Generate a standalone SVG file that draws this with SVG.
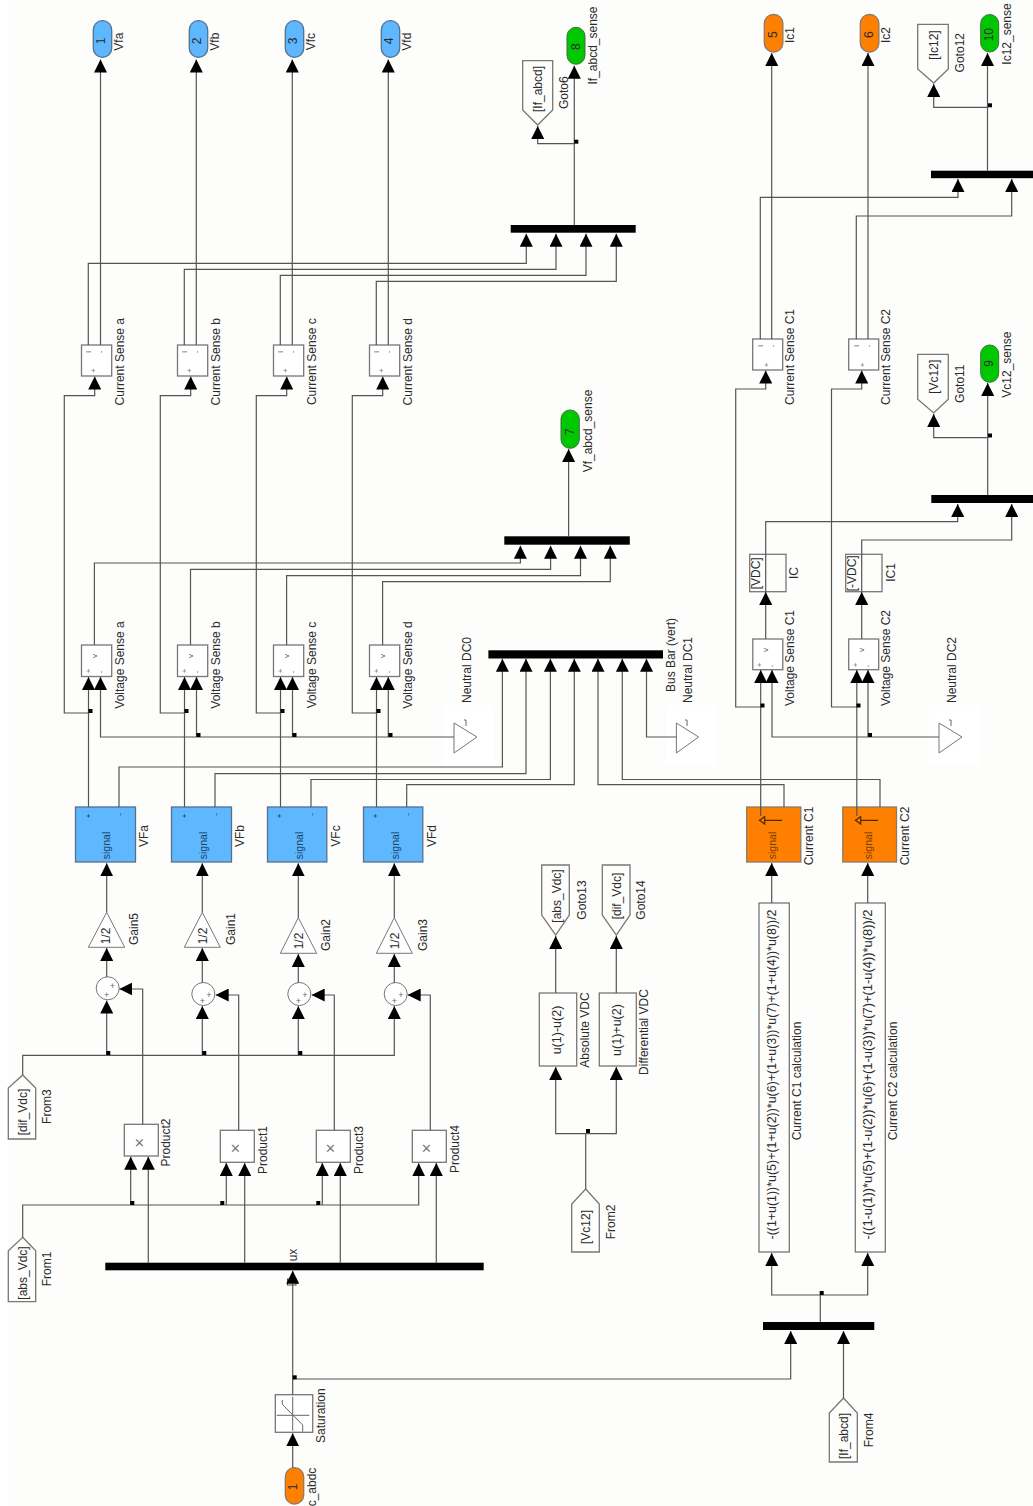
<svg xmlns="http://www.w3.org/2000/svg" width="1033" height="1506" viewBox="0 0 1033 1506">
<style>
text{font-family:"Liberation Sans",Arial,sans-serif;font-size:12px;fill:#2b2b2b;text-anchor:middle}
.c{fill:none;stroke:#555;stroke-width:1.2}
.a{marker-end:url(#ah)}
.k{fill:#fff;stroke:#777;stroke-width:1.3}
.w{fill:#fdfdfb;stroke:#777;stroke-width:1.3}
.blue{fill:#5fb8ff;stroke:#56708a;stroke-width:1.3}
.or{fill:#ff8000;stroke:#8c7a66;stroke-width:1.3}
.gr{fill:#00c800;stroke:#3c6e3c;stroke-width:1}
.bar{fill:#000}
.dot{fill:#000}
.s{font-size:8px;fill:#666}
.sg{font-size:10.5px;fill:#1c4468}
.so{font-size:10.5px;fill:#7a3c00}
.n{fill:none;stroke:#666;stroke-width:1}
.v{fill:#fff;stroke:#777;stroke-width:1}
.x{font-size:17px;fill:#777}
</style>
<defs>
<marker id="ah" viewBox="0 0 13 13" refX="13" refY="6.5" markerWidth="13" markerHeight="13" markerUnits="userSpaceOnUse" orient="auto"><path d="M0 0L13 6.5L0 13Z" fill="#000"/></marker>
</defs>
<rect width="1033" height="1506" fill="#fdfdfb"/>
<rect width="8" height="1506" fill="#fff"/>
<rect x="444" y="705" width="50" height="60" fill="#fff"/>
<rect x="666" y="705" width="50" height="60" fill="#fff"/>
<rect x="929" y="705" width="50" height="60" fill="#fff"/>

<g id="out-vfa"><rect class="blue" x="93.3" y="20.7" width="18.4" height="36.6" rx="9"/><text transform="translate(105 41) rotate(-90)">1</text><text transform="translate(123.3 41.7) rotate(-90)">Vfa</text></g>
<g id="out-vfb"><rect class="blue" x="189.3" y="20.7" width="18.4" height="36.6" rx="9"/><text transform="translate(201 41) rotate(-90)">2</text><text transform="translate(219.3 41.7) rotate(-90)">Vfb</text></g>
<g id="out-vfc"><rect class="blue" x="285.3" y="20.7" width="18.4" height="36.6" rx="9"/><text transform="translate(297 41) rotate(-90)">3</text><text transform="translate(315.3 41.7) rotate(-90)">Vfc</text></g>
<g id="out-vfd"><rect class="blue" x="381.3" y="20.7" width="18.4" height="36.6" rx="9"/><text transform="translate(393 41) rotate(-90)">4</text><text transform="translate(411.3 41.7) rotate(-90)">Vfd</text></g>
<g id="out-ic1"><rect class="or" x="764.3" y="14.5" width="18.6" height="37.5" rx="9"/><text transform="translate(776.5 34.7) rotate(-90)">5</text><text transform="translate(794 35) rotate(-90)">Ic1</text></g>
<g id="out-ic2"><rect class="or" x="860.3" y="14.5" width="18.6" height="37.5" rx="9"/><text transform="translate(872.5 34.7) rotate(-90)">6</text><text transform="translate(890 35) rotate(-90)">Ic2</text></g>
<g id="out-if"><rect class="gr" x="567" y="27.3" width="18" height="37" rx="9"/><text transform="translate(580 46.7) rotate(-90)">8</text><text transform="translate(596.7 45.5) rotate(-90)">If_abcd_sense</text></g>
<g id="out-vf"><rect class="gr" x="561" y="410" width="18.3" height="38.3" rx="9"/><text transform="translate(573.5 431.7) rotate(-90)">7</text><text transform="translate(592 431) rotate(-90)">Vf_abcd_sense</text></g>
<g id="out-vc12"><rect class="gr" x="980.7" y="345" width="18" height="37.3" rx="9"/><text transform="translate(993 363.3) rotate(-90)">9</text><text transform="translate(1011 364.7) rotate(-90)">Vc12_sense</text></g>
<g id="out-ic12"><rect class="gr" x="980.7" y="14.5" width="18" height="37.5" rx="9"/><text transform="translate(993 34.7) rotate(-90)">10</text><text transform="translate(1011 34) rotate(-90)">Ic12_sense</text></g>
<g id="in-abdc"><rect class="or" x="285.3" y="1467.7" width="18.4" height="36.3" rx="9"/><text transform="translate(297 1487) rotate(-90)">1</text><text transform="translate(316 1487) rotate(-90)">c_abdc</text></g>

<g id="goto6"><path class="w" d="M522.7 60.7H552.7V110L537.7 125L522.7 110Z"/><text transform="translate(542 89) rotate(-90)">[If_abcd]</text><text transform="translate(567.7 92.7) rotate(-90)">Goto6</text></g>
<g id="goto12"><path class="w" d="M917.7 24.3H948.3V69L933.7 83L917.7 69Z"/><text transform="translate(938 45) rotate(-90)">[Ic12]</text><text transform="translate(964 52.7) rotate(-90)">Goto12</text></g>
<g id="goto11"><path class="w" d="M917.7 354.3H948.3V399.3L933.7 413L917.7 399.3Z"/><text transform="translate(938 376.7) rotate(-90)">[Vc12]</text><text transform="translate(964 383.7) rotate(-90)">Goto11</text></g>
<g id="goto13"><path class="w" d="M541.7 865H569.3V915L555.7 935L541.7 915Z"/><text transform="translate(561 896) rotate(-90)">[abs_Vdc]</text><text transform="translate(586 900) rotate(-90)">Goto13</text></g>
<g id="goto14"><path class="w" d="M602.3 865H630V915L616.3 935L602.3 915Z"/><text transform="translate(621 896) rotate(-90)">[dif_Vdc]</text><text transform="translate(645 900) rotate(-90)">Goto14</text></g>
<g id="from1"><path class="w" d="M22.7 1237.3L35.7 1250.7V1301.7H8.3V1250.7Z"/><text transform="translate(27 1273) rotate(-90)">[abs_Vdc]</text><text transform="translate(51 1269) rotate(-90)">From1</text></g>
<g id="from3"><path class="w" d="M22.7 1075L35.7 1088V1139H8.3V1088Z"/><text transform="translate(27 1112) rotate(-90)">[dif_Vdc]</text><text transform="translate(51 1106.6) rotate(-90)">From3</text></g>
<g id="from2"><path class="w" d="M585.7 1189L599.3 1204V1252H571.7V1204Z"/><text transform="translate(590 1227) rotate(-90)">[Vc12]</text><text transform="translate(615 1222) rotate(-90)">From2</text></g>
<g id="from4"><path class="w" d="M843.5 1398L857.3 1413V1462H829.3V1413Z"/><text transform="translate(848 1436) rotate(-90)">[If_abcd]</text><text transform="translate(873 1430) rotate(-90)">From4</text></g>

<g id="cs-a"><rect class="k" x="81.5" y="345" width="30.2" height="31"/><text class="s" transform="translate(91 352) rotate(-90)">I</text><text class="s" transform="translate(103 352) rotate(-90)">-</text><text class="s" transform="translate(96 370.7) rotate(-90)">+</text><text transform="translate(123.5 361.7) rotate(-90)">Current Sense a</text></g>
<g id="cs-b"><rect class="k" x="177.5" y="345" width="30.2" height="31"/><text class="s" transform="translate(187 352) rotate(-90)">I</text><text class="s" transform="translate(199 352) rotate(-90)">-</text><text class="s" transform="translate(192 370.7) rotate(-90)">+</text><text transform="translate(219.5 361.7) rotate(-90)">Current Sense b</text></g>
<g id="cs-c"><rect class="k" x="273.5" y="345" width="30.2" height="31"/><text class="s" transform="translate(283 352) rotate(-90)">I</text><text class="s" transform="translate(295 352) rotate(-90)">-</text><text class="s" transform="translate(288 370.7) rotate(-90)">+</text><text transform="translate(315.5 361.7) rotate(-90)">Current Sense c</text></g>
<g id="cs-d"><rect class="k" x="369.5" y="345" width="30.2" height="31"/><text class="s" transform="translate(379 352) rotate(-90)">I</text><text class="s" transform="translate(391 352) rotate(-90)">-</text><text class="s" transform="translate(384 370.7) rotate(-90)">+</text><text transform="translate(411.5 361.7) rotate(-90)">Current Sense d</text></g>
<g id="cs-c1"><rect class="k" x="752.7" y="339" width="30" height="31"/><text class="s" transform="translate(763 346) rotate(-90)">I</text><text class="s" transform="translate(774.5 346) rotate(-90)">-</text><text class="s" transform="translate(768.5 365) rotate(-90)">+</text><text transform="translate(794 357) rotate(-90)">Current Sense C1</text></g>
<g id="cs-c2"><rect class="k" x="848.7" y="339" width="30" height="31"/><text class="s" transform="translate(859 346) rotate(-90)">I</text><text class="s" transform="translate(870.5 346) rotate(-90)">-</text><text class="s" transform="translate(864.5 365) rotate(-90)">+</text><text transform="translate(890 357) rotate(-90)">Current Sense C2</text></g>

<g id="vs-a"><rect class="k" x="81.5" y="645" width="30.2" height="31.5"/><text class="s" transform="translate(97 656) rotate(-90)">v</text><text class="s" transform="translate(90.5 671) rotate(-90)">+</text><text class="s" transform="translate(103 672) rotate(-90)">-</text><text transform="translate(123.5 665) rotate(-90)">Voltage Sense a</text></g>
<g id="vs-b"><rect class="k" x="177.5" y="645" width="30.2" height="31.5"/><text class="s" transform="translate(193 656) rotate(-90)">v</text><text class="s" transform="translate(186.5 671) rotate(-90)">+</text><text class="s" transform="translate(199 672) rotate(-90)">-</text><text transform="translate(219.5 665) rotate(-90)">Voltage Sense b</text></g>
<g id="vs-c"><rect class="k" x="273.5" y="645" width="30.2" height="31.5"/><text class="s" transform="translate(289 656) rotate(-90)">v</text><text class="s" transform="translate(282.5 671) rotate(-90)">+</text><text class="s" transform="translate(295 672) rotate(-90)">-</text><text transform="translate(315.5 665) rotate(-90)">Voltage Sense c</text></g>
<g id="vs-d"><rect class="k" x="369.5" y="645" width="30.2" height="31.5"/><text class="s" transform="translate(385 656) rotate(-90)">v</text><text class="s" transform="translate(378.5 671) rotate(-90)">+</text><text class="s" transform="translate(391 672) rotate(-90)">-</text><text transform="translate(411.5 665) rotate(-90)">Voltage Sense d</text></g>
<g id="vs-c1"><rect class="k" x="752.8" y="639" width="30" height="30.7"/><text class="s" transform="translate(768 650) rotate(-90)">v</text><text class="s" transform="translate(762 665) rotate(-90)">+</text><text class="s" transform="translate(774 666) rotate(-90)">-</text><text transform="translate(793.5 658) rotate(-90)">Voltage Sense C1</text></g>
<g id="vs-c2"><rect class="k" x="848.7" y="639" width="30" height="30.7"/><text class="s" transform="translate(864 650) rotate(-90)">v</text><text class="s" transform="translate(858 665) rotate(-90)">+</text><text class="s" transform="translate(870 666) rotate(-90)">-</text><text transform="translate(890 658) rotate(-90)">Voltage Sense C2</text></g>

<g id="ic"><rect class="w" x="749.7" y="554.3" width="36.3" height="37.4"/><text transform="translate(760 573.3) rotate(-90)">[VDC]</text><text transform="translate(798 573) rotate(-90)">IC</text></g>
<g id="ic1"><rect class="w" x="845.7" y="554.3" width="36.3" height="37.4"/><text transform="translate(856 573.3) rotate(-90)">[-VDC]</text><text transform="translate(894.5 572.5) rotate(-90)">IC1</text></g>

<g id="vfa"><rect class="blue" x="75.5" y="807" width="60" height="55"/><text class="s" style="fill:#123" transform="translate(90.5 816) rotate(-90)">+</text><text class="s" style="fill:#123" transform="translate(122 814.5) rotate(-90)">-</text><text class="sg" transform="translate(110 845.5) rotate(-90)">signal</text><text transform="translate(147.5 836) rotate(-90)">VFa</text></g>
<g id="vfb"><rect class="blue" x="171.5" y="807" width="60" height="55"/><text class="s" style="fill:#123" transform="translate(186.5 816) rotate(-90)">+</text><text class="s" style="fill:#123" transform="translate(218 814.5) rotate(-90)">-</text><text class="sg" transform="translate(206.5 845.5) rotate(-90)">signal</text><text transform="translate(243.5 836) rotate(-90)">VFb</text></g>
<g id="vfc"><rect class="blue" x="267.5" y="807" width="59.3" height="55"/><text class="s" style="fill:#123" transform="translate(282 816) rotate(-90)">+</text><text class="s" style="fill:#123" transform="translate(314 814.5) rotate(-90)">-</text><text class="sg" transform="translate(302.5 845.5) rotate(-90)">signal</text><text transform="translate(339.5 836) rotate(-90)">VFc</text></g>
<g id="vfd"><rect class="blue" x="363.5" y="807" width="59.3" height="55"/><text class="s" style="fill:#123" transform="translate(378 816) rotate(-90)">+</text><text class="s" style="fill:#123" transform="translate(409.7 814.5) rotate(-90)">-</text><text class="sg" transform="translate(398.5 845.5) rotate(-90)">signal</text><text transform="translate(435.5 836) rotate(-90)">VFd</text></g>
<g id="current-c1"><rect class="or" x="746.7" y="807" width="54.1" height="55"/><path class="c" style="stroke:#4a2a00" d="M764.7 820.3H782M759.5 820.3L764.7 816.7V824Z"/><text class="so" transform="translate(775.8 845.5) rotate(-90)">signal</text><text transform="translate(813.3 836) rotate(-90)">Current C1</text></g>
<g id="current-c2"><rect class="or" x="842.8" y="807" width="53.7" height="55"/><path class="c" style="stroke:#4a2a00" d="M860.7 820.3H878M855.5 820.3L860.7 816.7V824Z"/><text class="so" transform="translate(872 845.5) rotate(-90)">signal</text><text transform="translate(909 836) rotate(-90)">Current C2</text></g>

<g id="neutral-dc0"><path class="v" d="M454 723L477 737L454 753Z"/><path class="n" d="M464 720H466V726"/><text transform="translate(471 670) rotate(-90)">Neutral DC0</text></g>
<g id="neutral-dc1"><path class="v" d="M676.4 723L698.6 737L676.4 753Z"/><path class="n" d="M685 720H687V726"/><text transform="translate(691.5 670) rotate(-90)">Neutral DC1</text></g>
<g id="neutral-dc2"><path class="v" d="M939 723L962 737L939 753Z"/><path class="n" d="M949 720H951V726"/><text transform="translate(956.3 670) rotate(-90)">Neutral DC2</text></g>

<g id="bus-vert"><rect class="bar" x="488.4" y="650.3" width="174.6" height="8.2"/><text transform="translate(674.5 655) rotate(-90)">Bus Bar (vert)</text></g>
<g id="bus-if"><rect class="bar" x="510.7" y="225" width="125" height="7.7"/></g>
<g id="bus-vf"><rect class="bar" x="504.3" y="536.3" width="125.5" height="8.4"/></g>
<g id="bus-ic12"><rect class="bar" x="931" y="170.7" width="102" height="7.5"/></g>
<g id="bus-vc12"><rect class="bar" x="931.3" y="495" width="101.7" height="8"/></g>
<g id="bus-c"><rect class="bar" x="763" y="1322" width="111.3" height="8"/></g>
<g id="demux"><rect class="bar" x="105.3" y="1262.7" width="378.4" height="7.6"/><text transform="translate(297 1255) rotate(-90)">ux</text><rect x="287.5" y="1279" width="8.5" height="6" fill="#fff" stroke="#444"/></g>

<g id="gain5"><path class="v" d="M106.7 912.3L124.7 947.3H88.3Z"/><text transform="translate(110 936) rotate(-90)">1/2</text><text transform="translate(138.3 929) rotate(-90)">Gain5</text></g>
<g id="gain1"><path class="v" d="M202.3 912.3L220.3 947.3H184.3Z"/><text transform="translate(206.5 936) rotate(-90)">1/2</text><text transform="translate(235 929) rotate(-90)">Gain1</text></g>
<g id="gain2"><path class="v" d="M298.3 917.7L316.7 953.3H280.3Z"/><text transform="translate(302.7 941) rotate(-90)">1/2</text><text transform="translate(330 935) rotate(-90)">Gain2</text></g>
<g id="gain3"><path class="v" d="M394.3 917.7L412.3 953.3H376.3Z"/><text transform="translate(399 941) rotate(-90)">1/2</text><text transform="translate(426.7 935) rotate(-90)">Gain3</text></g>

<g id="sum-a"><circle class="v" cx="107.7" cy="988.3" r="11.5"/><text class="s" style="font-size:9px" x="106.7" y="998">+</text><text class="s" style="font-size:9px" x="112.3" y="989">+</text></g>
<g id="sum-b"><circle class="v" cx="203.3" cy="994" r="11.5"/><text class="s" style="font-size:9px" x="202.3" y="1004">+</text><text class="s" style="font-size:9px" x="209" y="998">+</text></g>
<g id="sum-c"><circle class="v" cx="299.3" cy="994" r="11.5"/><text class="s" style="font-size:9px" x="298.3" y="1004">+</text><text class="s" style="font-size:9px" x="305" y="998">+</text></g>
<g id="sum-d"><circle class="v" cx="395.7" cy="994" r="11.5"/><text class="s" style="font-size:9px" x="394.3" y="1004">+</text><text class="s" style="font-size:9px" x="401" y="998">+</text></g>

<g id="product2"><rect class="k" x="124.3" y="1124.3" width="34" height="31.7"/><text class="x" transform="translate(145 1142.7) rotate(-90)">×</text><text transform="translate(170.3 1142.5) rotate(-90)">Product2</text></g>
<g id="product1"><rect class="k" x="220.3" y="1130.3" width="34" height="32"/><text class="x" transform="translate(241 1148.3) rotate(-90)">×</text><text transform="translate(266.7 1150) rotate(-90)">Product1</text></g>
<g id="product3"><rect class="k" x="316.3" y="1130.3" width="34" height="32"/><text class="x" transform="translate(336.3 1148.3) rotate(-90)">×</text><text transform="translate(362.5 1150) rotate(-90)">Product3</text></g>
<g id="product4"><rect class="k" x="412.3" y="1130.3" width="34" height="32"/><text class="x" transform="translate(432.3 1148.3) rotate(-90)">×</text><text transform="translate(458.7 1149) rotate(-90)">Product4</text></g>

<g id="abs-vdc"><rect class="w" x="539.3" y="993" width="37.4" height="73"/><text style="font-size:12.5px" transform="translate(561 1030) rotate(-90)">u(1)-u(2)</text><text transform="translate(589 1030) rotate(-90)">Absolute VDC</text></g>
<g id="dif-vdc"><rect class="w" x="599.3" y="993" width="37" height="73"/><text style="font-size:12.5px" transform="translate(621 1030) rotate(-90)">u(1)+u(2)</text><text transform="translate(648 1032) rotate(-90)">Differential VDC</text></g>

<g id="calc-c1"><rect class="w" x="759" y="903" width="30.3" height="349"/><text textLength="330" lengthAdjust="spacingAndGlyphs" transform="translate(776 1074.5) rotate(-90)">-((1+u(1))*u(5)+(1+u(2))*u(6)+(1+u(3))*u(7)+(1+u(4))*u(8))/2</text><text transform="translate(801 1081) rotate(-90)">Current C1 calculation</text></g>
<g id="calc-c2"><rect class="w" x="855.3" y="903" width="30" height="349"/><text textLength="330" lengthAdjust="spacingAndGlyphs" transform="translate(872 1074.5) rotate(-90)">-((1-u(1))*u(5)+(1-u(2))*u(6)+(1-u(3))*u(7)+(1-u(4))*u(8))/2</text><text transform="translate(896.5 1081) rotate(-90)">Current C2 calculation</text></g>

<g id="saturation"><rect class="k" x="275.3" y="1394.7" width="37.4" height="37.6"/><path class="n" d="M276.7 1415.3H309.3M292.7 1396.7V1430.7M282.3 1400V1404.3L302.7 1425V1431.7"/><text transform="translate(325 1415.7) rotate(-90)">Saturation</text></g>

<g id="connectors">
<path class="c a" d="M100.5 345V59.5"/><path class="c a" d="M196.3 345V59.5"/><path class="c a" d="M292.3 345V59.5"/><path class="c a" d="M388.3 345V59.5"/>
<path class="c a" d="M88.3 345V263.3H526.3V233.7"/><path class="c a" d="M184.3 345V269.3H556V233.7"/><path class="c a" d="M280.3 345V275.3H586V233.7"/><path class="c a" d="M376.3 345V281.3H616.3V233.7"/>
<path class="c a" d="M574.3 225V65.7"/><path class="c a" d="M574.3 143.7H537.7V126"/>
<path class="c a" d="M88.5 807V677"/><path class="c a" d="M88.5 713H64.3V395.7H94.7V376.5"/>
<path class="c a" d="M184.5 807V677"/><path class="c a" d="M184.5 713H160.3V395.7H190.7V376.5"/>
<path class="c a" d="M280.5 807V677"/><path class="c a" d="M280.5 713H256.3V395.7H286.7V376.5"/>
<path class="c a" d="M376.5 807V677"/><path class="c a" d="M376.5 713H352.3V395.7H382.7V376.5"/>
<path class="c a" d="M454 737H100.5V677"/><path class="c a" d="M196.5 737V677"/><path class="c a" d="M292.5 737V677"/><path class="c a" d="M388.3 737V677"/>
<path class="c a" d="M94.4 645V563H520.4V545.7"/><path class="c a" d="M190.5 645V569.3H550.6V545.7"/><path class="c a" d="M286.6 645V575.7H580.5V545.7"/><path class="c a" d="M382.6 645V581.7H610.3V545.7"/>
<path class="c a" d="M568.6 536.3V449"/>
<path class="c a" d="M119 807V767H502.4V658.8"/><path class="c a" d="M215 807V773.7H526V658.8"/><path class="c a" d="M311 807V779.5H550.4V658.8"/><path class="c a" d="M406.7 807V784.7H574.3V658.8"/>
<path class="c a" d="M784 807V784.7H598V658.8"/><path class="c a" d="M880 807V779.5H622.3V658.8"/><path class="c a" d="M676.4 737H646.5V658.8"/>
<path class="c a" d="M760.7 816V670"/><path class="c a" d="M760.7 707H735.7V389H765.7V370.5"/>
<path class="c a" d="M856.8 816V670"/><path class="c a" d="M856.8 707H831.5V389H861.7V370.5"/>
<path class="c a" d="M939 737H772V670"/><path class="c a" d="M868 737V670"/>
<path class="c a" d="M765.7 639V592"/><path class="c a" d="M765.7 592V521.7H957.7V504"/>
<path class="c a" d="M861.7 639V592"/><path class="c a" d="M861.7 592V540H1011.7V504"/>
<path class="c a" d="M760.3 339V197.3H958V179"/><path class="c a" d="M771.7 339V53"/><path class="c a" d="M856.3 339V216H1011.7V179"/><path class="c a" d="M868 339V53"/>
<path class="c a" d="M987.5 170.7V53"/><path class="c a" d="M987.5 107.3H933.7V84"/>
<path class="c a" d="M987.7 495V383"/><path class="c a" d="M987.7 437.7H933.7V414"/>
<path class="c a" d="M106.7 912.3V863.3"/><path class="c a" d="M202.3 912.3V863.3"/><path class="c a" d="M298.3 917.7V863.3"/><path class="c a" d="M394.3 917.7V863.3"/>
<path class="c a" d="M106.7 977V948"/><path class="c a" d="M202.3 983V948"/><path class="c a" d="M298.3 983V954"/><path class="c a" d="M394.3 983V954"/>
<path class="c a" d="M142.7 1124.3V989H119.3"/><path class="c a" d="M238.7 1130.3V995H215.7"/><path class="c a" d="M334.3 1130.3V995H311.7"/><path class="c a" d="M430.3 1130.3V995H407.7"/>
<path class="c a" d="M22.7 1075V1055.3H394.3V1006"/><path class="c a" d="M106.7 1055.3V1000.5"/><path class="c a" d="M202.3 1055.3V1006"/><path class="c a" d="M298.3 1055.3V1006"/>
<path class="c a" d="M22.7 1237.3V1205H418.7V1163.3"/><path class="c a" d="M130.7 1205V1156.7"/><path class="c a" d="M226.3 1205V1163"/><path class="c a" d="M322.3 1205V1163"/>
<path class="c a" d="M148.3 1262.7V1156.7"/><path class="c a" d="M244.7 1262.7V1163"/><path class="c a" d="M340.3 1262.7V1163"/><path class="c a" d="M436.3 1262.7V1163"/>
<path class="c a" d="M292.7 1467.7V1433.3"/><path class="c a" d="M292.7 1394.7V1270.7"/><path class="c a" d="M292.7 1379H790.7V1331"/>
<path class="c a" d="M843.5 1398V1331"/><path class="c" d="M820.3 1322V1295"/><path class="c a" d="M820.3 1295H771.7V1253"/><path class="c a" d="M820.3 1295H867.7V1253"/>
<path class="c a" d="M771.7 903V863"/><path class="c a" d="M867.7 903V863"/>
<path class="c a" d="M555.7 993V936"/><path class="c a" d="M616.3 993V936"/>
<path class="c" d="M585.7 1189V1133.7"/><path class="c a" d="M585.7 1133.7H555.7V1067"/><path class="c a" d="M585.7 1133.7H616.3V1067"/>
<g class="dot">
<rect x="88.5" y="709" width="4" height="4"/><rect x="184.5" y="709" width="4" height="4"/><rect x="280.5" y="709" width="4" height="4"/><rect x="376.5" y="709" width="4" height="4"/>
<rect x="196.5" y="733" width="4" height="4"/><rect x="292.5" y="733" width="4" height="4"/><rect x="388.5" y="733" width="4" height="4"/>
<rect x="574.3" y="139.7" width="4" height="4"/><rect x="988" y="103.3" width="4" height="4"/><rect x="988" y="433.5" width="4" height="4"/>
<rect x="760.5" y="703.5" width="4" height="4"/><rect x="856.5" y="703.5" width="4" height="4"/><rect x="868" y="733" width="4" height="4"/>
<rect x="106.3" y="1051" width="4" height="4"/><rect x="202.3" y="1051" width="4" height="4"/><rect x="298.3" y="1051" width="4" height="4"/>
<rect x="130.3" y="1201" width="4" height="4"/><rect x="220.3" y="1201" width="4" height="4"/><rect x="316.3" y="1201" width="4" height="4"/>
<rect x="292.7" y="1375.3" width="4" height="4"/><rect x="819.7" y="1291" width="4" height="4"/><rect x="586" y="1129" width="4" height="4"/>
</g>
</g>
</svg>
